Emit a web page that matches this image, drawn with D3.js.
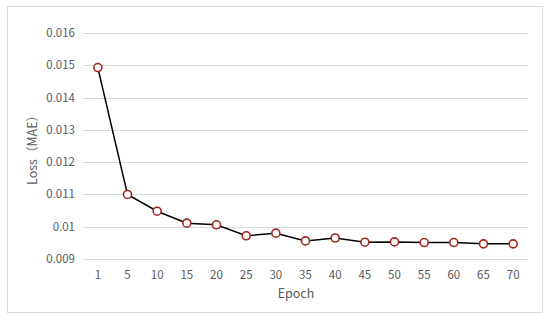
<!DOCTYPE html>
<html>
<head>
<meta charset="utf-8">
<script src="https://cdn.jsdelivr.net/npm/d3@7"></script>
<style>
  body { margin: 0; background: #fff; }
  svg text { font-family: "Noto Sans CJK SC", "Noto Sans", sans-serif; fill: #595959; }
</style>
</head>
<body>
<svg id="chart" width="550" height="320"></svg>
<script>
// chart data
var epochs = ["1", "5", "10", "15", "20", "25", "30", "35", "40", "45", "50", "55", "60", "65", "70"];
var loss = [0.01493, 0.01100, 0.01048, 0.01011, 0.01006, 0.00972, 0.00980, 0.00956, 0.00965, 0.00952, 0.00953, 0.00951, 0.00951, 0.00947, 0.00947];
var yTicks = [0.009, 0.01, 0.011, 0.012, 0.013, 0.014, 0.015, 0.016];

var svg = d3.select('#chart');
// plot area (window.top is read-only, so use other names)
var plotLeft = 83, plotRight = 528, plotTop = 33, plotBottom = 259;

// outer border
svg.append('rect')
    .attr('x', 7.5).attr('y', 6.5)
    .attr('width', 535).attr('height', 306)
    .attr('fill', 'none')
    .attr('stroke', '#d9d9d9');

var x = d3.scaleBand().domain(epochs).range([plotLeft, plotRight]);
var y = d3.scaleLinear().domain([0.009, 0.016]).range([plotBottom, plotTop]);

// gridlines
svg.selectAll('line.grid')
    .data(yTicks)
    .enter()
    .append('line')
    .attr('class', 'grid')
    .attr('x1', plotLeft).attr('x2', plotRight)
    .attr('y1', function(d) { return Math.round(y(d)) + 0.5; })
    .attr('y2', function(d) { return Math.round(y(d)) + 0.5; })
    .attr('stroke', '#d9d9d9')
    .attr('stroke-width', 1);

// y tick labels
svg.selectAll('text.ytick')
    .data(yTicks)
    .enter()
    .append('text')
    .attr('class', 'ytick')
    .attr('x', 75)
    .attr('y', function(d) { return y(d); })
    .attr('dy', '0.35em')
    .attr('text-anchor', 'end')
    .style('font-size', '11.5px')
    .text(function(d) { return String(+d.toFixed(3)); });

// x tick labels
svg.selectAll('text.xtick')
    .data(epochs)
    .enter()
    .append('text')
    .attr('class', 'xtick')
    .attr('x', function(d) { return x(d) + x.bandwidth() / 2; })
    .attr('y', 275)
    .attr('dy', '0.35em')
    .attr('text-anchor', 'middle')
    .style('font-size', '11.5px')
    .text(function(d) { return d; });

// axis titles
svg.append('text')
    .attr('x', 296).attr('y', 294)
    .attr('dy', '0.35em')
    .attr('text-anchor', 'middle')
    .style('font-size', '12.5px')
    .text('Epoch');

svg.append('text')
    .attr('transform', 'translate(33,147) rotate(-90)')
    .attr('dy', '0.35em')
    .attr('text-anchor', 'middle')
    .style('font-size', '12.5px')
    .text('Loss（MAE）');

// line
var line = d3.line()
    .x(function(d, i) { return x(epochs[i]) + x.bandwidth() / 2; })
    .y(function(d) { return y(d); });

svg.append('path')
    .datum(loss)
    .attr('d', line)
    .attr('fill', 'none')
    .attr('stroke', '#000')
    .attr('stroke-width', 1.5);

// markers
svg.selectAll('circle')
    .data(loss)
    .enter()
    .append('circle')
    .attr('cx', function(d, i) { return x(epochs[i]) + x.bandwidth() / 2; })
    .attr('cy', function(d) { return y(d); })
    .attr('r', 4)
    .attr('fill', '#fff')
    .attr('stroke', '#a0281e')
    .attr('stroke-width', 1.6);
</script>
</body>
</html>
